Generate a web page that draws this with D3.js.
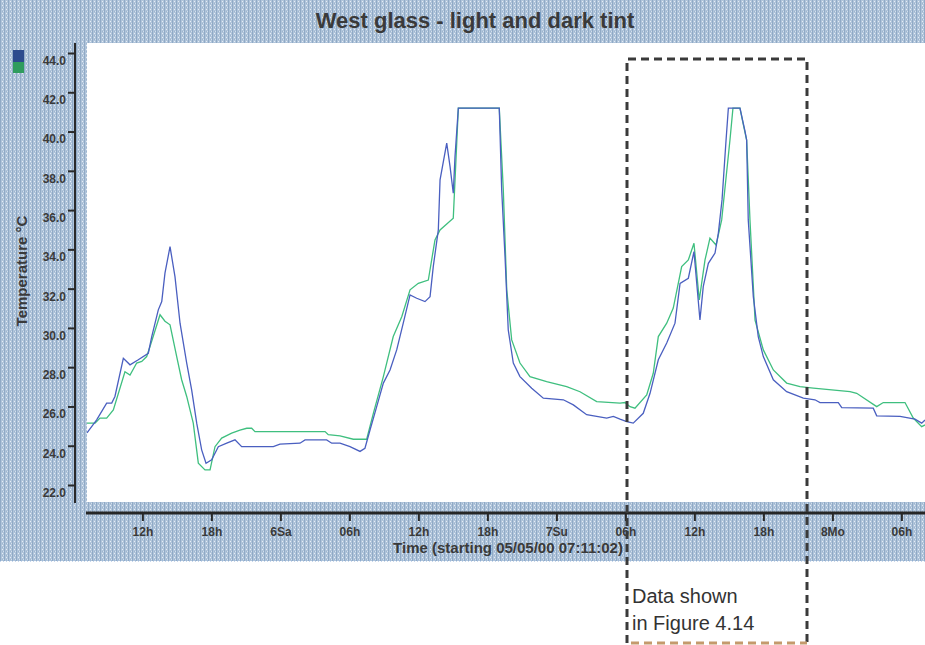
<!DOCTYPE html>
<html>
<head>
<meta charset="utf-8">
<script src="https://cdn.jsdelivr.net/npm/d3@7"></script>
<style>
  body { margin: 0; background: #ffffff; }
  svg { display: block; }
</style>
</head>
<body>
<svg id="chart" width="925" height="645"></svg>
<script>
// Logger run: temperatures behind the west glass, light and dark tint
const loggerStart = "2000-05-05 07:11:02";
const chartTitle = "West glass - light and dark tint";
const yAxisTitle = "Temperature °C";
const xAxisTitle = "Time (starting 05/05/00 07:11:02)";

const yTickValues = [22, 24, 26, 28, 30, 32, 34, 36, 38, 40, 42, 44];
const xTickLabels = ["12h", "18h", "6Sa", "06h", "12h", "18h", "7Su", "06h", "12h", "18h", "8Mo", "06h"];

// hours since logger start / temperature in °C
const blueHours = [0, 0.84, 1.71, 2.15, 2.43, 3.16, 3.74, 4.46, 5.33, 5.63, 6.20, 6.50, 6.78, 7.22, 7.65, 8.09, 8.67, 9.10, 9.54, 9.97,
  10.35, 10.84, 11.42, 12.15, 12.87, 13.45, 16.20, 16.78, 18.52, 18.96, 20.84, 21.28, 22.00, 22.87, 23.74, 24.17, 24.61, 25.19, 25.77, 26.35,
  26.93, 27.50, 28.09, 28.67, 29.39, 29.83, 30.11, 30.55, 30.70, 31.28, 31.57, 31.85, 32.00, 32.29, 35.85, 36.06, 36.35, 36.63, 37.07, 37.65,
  38.67, 39.68, 41.42, 42.29, 43.45, 45.19, 45.77, 46.35, 46.93, 47.50, 48.37, 48.96, 49.68, 50.41, 51.13, 51.57, 52.29, 52.78, 53.30, 53.59,
  54.03, 54.61, 54.90, 55.22, 55.57, 55.77, 56.78, 57.22, 57.36, 57.50, 57.94, 58.37, 58.81, 59.68, 60.84, 62.29, 63.30, 63.74, 65.33, 65.63,
  68.37, 68.67, 70.70, 72.00, 72.58, 72.87];
const blueTemps = [24.66, 25.32, 26.17, 26.17, 26.51, 28.45, 28.12, 28.38, 28.71, 29.56, 30.92, 31.34, 32.79, 34.14, 32.61, 30.24, 28.21, 26.84, 25.15, 23.79,
  23.11, 23.28, 23.95, 24.13, 24.30, 23.95, 23.95, 24.08, 24.13, 24.30, 24.30, 24.13, 24.13, 23.95, 23.71, 23.87, 24.80, 25.99, 27.19, 27.86,
  28.88, 30.24, 31.68, 31.51, 31.34, 31.59, 33.12, 34.99, 37.54, 39.41, 38.21, 36.86, 38.72, 41.19, 41.19, 37.03, 33.63, 29.90, 28.21, 27.52,
  26.93, 26.42, 26.34, 26.08, 25.58, 25.41, 25.49, 25.35, 25.23, 25.15, 25.65, 26.67, 28.38, 29.23, 30.24, 32.27, 32.53, 33.89, 30.40, 32.11,
  33.29, 33.81, 34.83, 36.52, 39.57, 41.19, 41.19, 40.01, 39.57, 35.50, 31.59, 29.56, 28.54, 27.36, 26.75, 26.42, 26.34, 26.20, 26.20, 25.94,
  25.91, 25.52, 25.49, 25.35, 25.15, 25.31];

const greenHours = [0, 0.70, 1.13, 1.71, 2.29, 3.30, 3.74, 4.32, 4.76, 5.19, 5.48, 6.35, 6.78, 7.22, 7.80, 8.23, 8.67, 9.24, 9.68, 10.26,
  10.70, 11.13, 11.71, 12.58, 13.30, 13.89, 14.32, 14.61, 20.70, 20.98, 22.00, 23.16, 24.32, 24.90, 25.77, 26.63, 27.37, 28.09, 28.81, 29.68,
  30.26, 30.70, 31.85, 32.29, 35.85, 36.20, 36.50, 36.93, 37.65, 38.52, 39.97, 41.71, 42.87, 44.32, 46.35, 46.78, 47.22, 47.65, 48.67, 49.24,
  49.68, 50.41, 50.98, 51.71, 52.29, 52.78, 53.24, 53.74, 54.17, 54.70, 55.19, 55.91, 56.17, 56.78, 57.04, 57.36, 57.65, 58.09, 58.81, 59.68,
  60.84, 62.00, 63.16, 66.35, 66.93, 68.67, 69.24, 71.13, 71.85, 72.58, 72.87];
const greenTemps = [25.15, 25.15, 25.41, 25.41, 25.82, 27.77, 27.60, 28.21, 28.29, 28.54, 29.05, 30.67, 30.34, 30.16, 28.54, 27.36, 26.51, 25.15, 23.11, 22.77,
  22.77, 23.95, 24.39, 24.64, 24.80, 24.89, 24.89, 24.72, 24.72, 24.56, 24.50, 24.33, 24.33, 25.65, 27.52, 29.56, 30.57, 31.94, 32.27, 32.44,
  34.48, 34.99, 35.59, 41.19, 41.19, 37.03, 31.94, 29.39, 28.21, 27.52, 27.27, 27.01, 26.75, 26.25, 26.17, 26.20, 25.99, 25.91, 26.59, 27.69,
  29.56, 30.24, 31.01, 33.12, 33.46, 34.31, 31.42, 33.46, 34.57, 34.22, 35.50, 39.57, 41.19, 41.19, 40.44, 39.57, 35.50, 30.40, 28.88, 27.86,
  27.19, 27.01, 26.93, 26.75, 26.67, 25.99, 26.20, 26.20, 25.41, 24.97, 25.06];

const annotationLines = ["Data shown", "in Figure 4.14"];

const W = 925, H = 645;
const font = "'Liberation Sans', Arial, sans-serif";
const svg = d3.select("#chart");

const t0 = d3.timeParse("%Y-%m-%d %H:%M:%S")(loggerStart);
const toDate = h => new Date(t0.getTime() + h * 3600e3);
const spanHours = 75;

const plot = { left: 87, top: 43, bottom: 502 };
const x = d3.scaleTime().domain([t0, toDate(spanHours)]).range([plot.left, plot.left + spanHours * 11.5]);
const y = d3.scaleLinear().domain([22, 44]).range([485, 53]);

// textured panel background
const defs = svg.append("defs");
const pat = defs.append("pattern").attr("id", "tex").attr("patternUnits", "userSpaceOnUse")
  .attr("width", 4).attr("height", 4);
pat.append("rect").attr("width", 4).attr("height", 4).attr("fill", "#b0c4da");
pat.append("rect").attr("x", 0).attr("width", 1).attr("height", 4).attr("fill", "#90aac6");
pat.append("rect").attr("x", 2).attr("y", 1).attr("width", 1).attr("height", 1).attr("fill", "#e4edf6");
pat.append("rect").attr("x", 3).attr("y", 3).attr("width", 1).attr("height", 1).attr("fill", "#d2dfec");
pat.append("rect").attr("x", 2).attr("y", 3).attr("width", 1).attr("height", 1).attr("fill", "#9db5cf");

svg.append("rect").attr("x", 0).attr("y", 0).attr("width", W).attr("height", 561).attr("fill", "url(#tex)");
svg.append("line").attr("x1", 0).attr("x2", W).attr("y1", 561).attr("y2", 561)
  .attr("stroke", "#8fb0d8").attr("stroke-width", 1).attr("stroke-dasharray", "1,2");

// white plotting area
svg.append("rect").attr("x", plot.left).attr("y", plot.top)
  .attr("width", W - plot.left + 20).attr("height", plot.bottom - plot.top).attr("fill", "#ffffff");

defs.append("clipPath").attr("id", "plotClip").append("rect")
  .attr("x", plot.left).attr("y", plot.top).attr("width", W - plot.left + 20).attr("height", plot.bottom - plot.top);

// title
svg.append("text").attr("x", 475).attr("y", 28).attr("text-anchor", "middle")
  .attr("font-family", font).attr("font-size", 22).attr("font-weight", "bold").attr("fill", "#3a3a3a").text(chartTitle);

// legend swatches
svg.append("rect").attr("x", 13).attr("y", 50).attr("width", 11).attr("height", 12).attr("fill", "#2c4b8e");
svg.append("rect").attr("x", 13).attr("y", 62).attr("width", 11).attr("height", 11).attr("fill", "#2f9c5e");

// y axis
const yAxis = svg.append("g").attr("transform", "translate(75,0)")
  .call(d3.axisLeft(y).tickValues(yTickValues).tickFormat(d3.format(".1f")).tickSize(7).tickPadding(2));
yAxis.select(".domain").remove();
yAxis.selectAll(".tick line").attr("stroke", "#2a2a2a").attr("stroke-width", 2);
yAxis.selectAll(".tick text").attr("dy", "0.95em").attr("font-family", font).attr("font-size", 12)
  .attr("font-weight", "bold").attr("fill", "#3a3a3a");
svg.append("line").attr("x1", 75).attr("x2", 75).attr("y1", plot.top).attr("y2", 503)
  .attr("stroke", "#2a2a2a").attr("stroke-width", 2);

svg.append("text").attr("transform", "translate(27,271) rotate(-90)").attr("text-anchor", "middle")
  .attr("font-family", font).attr("font-size", 15).attr("font-weight", "bold").attr("fill", "#3a3a3a").text(yAxisTitle);

// x axis
const xTickValues = d3.timeHour.every(6).range(t0, toDate(spanHours));
const xAxis = svg.append("g").attr("transform", "translate(0,513)")
  .call(d3.axisBottom(x).tickValues(xTickValues).tickFormat((d, i) => xTickLabels[i]).tickSize(8).tickPadding(6));
xAxis.select(".domain").remove();
xAxis.selectAll(".tick line").attr("stroke", "#2a2a2a").attr("stroke-width", 2);
xAxis.selectAll(".tick text").attr("font-family", font).attr("font-size", 12)
  .attr("font-weight", "bold").attr("fill", "#3a3a3a");
svg.append("line").attr("x1", 86).attr("x2", W + 5).attr("y1", 513).attr("y2", 513)
  .attr("stroke", "#262626").attr("stroke-width", 3);

svg.append("text").attr("x", 508).attr("y", 553).attr("text-anchor", "middle")
  .attr("font-family", font).attr("font-size", 15).attr("font-weight", "bold").attr("fill", "#3a3a3a").text(xAxisTitle);

// temperature traces
const line = d3.line().x(d => x(toDate(d[0]))).y(d => y(d[1]));
const traces = svg.append("g").attr("clip-path", "url(#plotClip)");
traces.append("path").datum(d3.zip(greenHours, greenTemps))
  .attr("d", line).attr("fill", "none").attr("stroke", "#3fbf7f").attr("stroke-width", 1.3);
traces.append("path").datum(d3.zip(blueHours, blueTemps))
  .attr("d", line).attr("fill", "none").attr("stroke", "#4a5fc0").attr("stroke-width", 1.3);

// highlighted window
const box = { x0: 627, x1: 807, y0: 59, y1: 643 };
const boxG = svg.append("g").attr("fill", "none").attr("stroke-width", 3).attr("stroke-dasharray", "8,5");
boxG.append("path").attr("d", `M${box.x0},${box.y1}V${box.y0}H${box.x1}V${box.y1}`).attr("stroke", "#3a3a3a");
boxG.append("line").attr("x1", box.x0 + 4).attr("x2", box.x1).attr("y1", box.y1).attr("y2", box.y1)
  .attr("stroke", "#c49a6c");

annotationLines.forEach((t, i) => {
  svg.append("text").attr("x", 632).attr("y", 603 + i * 27)
    .attr("font-family", font).attr("font-size", 20).attr("fill", "#333").text(t);
});
</script>
</body>
</html>
